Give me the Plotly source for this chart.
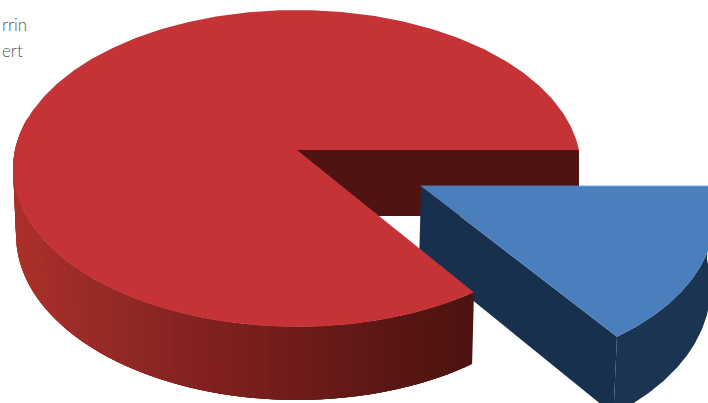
import numpy as np
import plotly.graph_objects as go

# Slice shares (percent) of the pie
categories = ["Major", "Minor"]
shares = [84.6, 15.4]
label_lines = ["rrin", "ert"]
label_right = [28, 24]
label_y = [24, 50]

# Colours
RED_TOP = "#c53336"
RED_INNER = "#4f1412"
BLUE_TOP = "#4a7ebd"
BLUE_EDGE = "#4a90d8"
BLUE_FACE = "#17304e"
BLUE_RIM = "#1a3452"
TEXT = "#555555"
wall_stop_x = [15, 60, 130, 200, 300, 400, 475]
wall_stop_rgb = [(170, 49, 42), (161, 45, 40), (143, 40, 37), (130, 33, 31),
                 (110, 28, 26), (88, 22, 19), (76, 19, 16)]

# Oblique projection of the pie plane onto the axis frame
APEX_X = 297.0
TILT = 0.1167
TOP = dict(y=150.0, sx=282.0, sy=156.3)
BOTTOM = dict(y=216.0, sx=279.0, sy=162.5)
EXPLODE = 0.484
BOTTOM_SHIFT = (-0.003, -0.02)


def project(u, v, plane):
    w = 1 + TILT * np.asarray(v)
    return APEX_X + plane["sx"] * np.asarray(u) / w, plane["y"] - plane["sy"] * np.asarray(v) / w


def rim(start, end, plane, offset=(0.0, 0.0), n=160):
    t = np.radians(np.linspace(start, end, n))
    return project(offset[0] + np.cos(t), offset[1] + np.sin(t), plane)


def wall_colour(x):
    rgb = [np.interp(x, wall_stop_x, [c[i] for c in wall_stop_rgb]) for i in range(3)]
    return "rgb({:.0f},{:.0f},{:.0f})".format(*rgb)


def polygon(fig, xs, ys, colour):
    fig.add_trace(go.Scatter(
        x=list(xs), y=list(ys), mode="lines", fill="toself", fillcolor=colour,
        line=dict(width=0), showlegend=False, hoverinfo="skip",
    ))


sweep = 360 * shares[1] / sum(shares)
mid = np.radians(-sweep / 2)
off = (EXPLODE * np.cos(mid), EXPLODE * np.sin(mid))
off_low = (off[0] + BOTTOM_SHIFT[0], off[1] + BOTTOM_SHIFT[1])

fig = go.Figure()

# Inner cut wall of the large slice, seen through the gap
ax_t, ay_t = project(0.0, 0.0, TOP)
ax_b, ay_b = project(0.0, 0.0, BOTTOM)
ex_t, ey_t = project(1.0, 0.0, TOP)
ex_b, ey_b = project(1.0, 0.0, BOTTOM)
polygon(fig, [ax_t, ex_t, ex_t, ax_b, ax_t], [ay_t, ey_t, ey_b, ay_b, ay_t], RED_INNER)

# Exploded slice: two side faces, then its top
bx_t, by_t = project(off[0], off[1], TOP)
bx_b, by_b = project(off_low[0], off_low[1], BOTTOM)
tip = np.radians(-sweep)
tx_t, ty_t = project(off[0] + np.cos(tip), off[1] + np.sin(tip), TOP)
tx_b, ty_b = project(off_low[0] + np.cos(tip), off_low[1] + np.sin(tip), BOTTOM)
polygon(fig, [bx_t, tx_t, tx_b, bx_b, bx_t], [by_t, ty_t, ty_b, by_b, by_t], BLUE_FACE)
arc_tx, arc_ty = rim(-sweep, 0, TOP, off)
arc_bx, arc_by = rim(-sweep, 0, BOTTOM, off_low)
polygon(fig, np.r_[arc_tx, arc_bx[::-1]], np.r_[arc_ty, arc_by[::-1]], BLUE_RIM)
polygon(fig, np.r_[bx_t, arc_tx, bx_t], np.r_[by_t, arc_ty, by_t], BLUE_TOP)
fig.add_trace(go.Scatter(
    x=[bx_t, arc_tx[-1]], y=[by_t, arc_ty[-1]], mode="lines",
    line=dict(color=BLUE_EDGE, width=1), showlegend=False, hoverinfo="skip",
))

# Outer wall of the large slice: each shaded strip runs a little past the next one so no seams show
WALL_END = -192
edges = np.linspace(-sweep, WALL_END, 91)
step = edges[0] - edges[1]
for a0, a1 in zip(edges[:-1], edges[1:]):
    reach = max(a1 - 3 * step, WALL_END)
    tx, ty = rim(a0, reach, TOP, n=12)
    lx, ly = rim(a0, reach, BOTTOM, n=12)
    cx, _ = rim(a0, a1, TOP, n=3)
    polygon(fig, np.r_[tx, lx[::-1]], np.r_[ty, ly[::-1]], wall_colour(cx.mean()))

# Top of the large slice
arc_x, arc_y = rim(-sweep, -360, TOP, n=360)
polygon(fig, np.r_[ax_t, arc_x, ax_t], np.r_[ay_t, arc_y, ay_t], RED_TOP)

# Remaining text at the upper-left corner
for text, x, y in zip(label_lines, label_right, label_y):
    fig.add_annotation(x=x, y=y, xref="x", yref="y", text=text, showarrow=False,
                       xanchor="right", yanchor="middle", borderpad=0,
                       font=dict(family="Lato", size=17, color=TEXT, weight=300))

fig.update_layout(
    width=708, height=403, margin=dict(l=0, r=0, t=0, b=0),
    paper_bgcolor="white", plot_bgcolor="white",
    xaxis=dict(range=[0, 708], visible=False, fixedrange=True),
    yaxis=dict(range=[403, 0], visible=False, fixedrange=True),
)
fig.write_html("out.html", config=dict(displayModeBar=False))
